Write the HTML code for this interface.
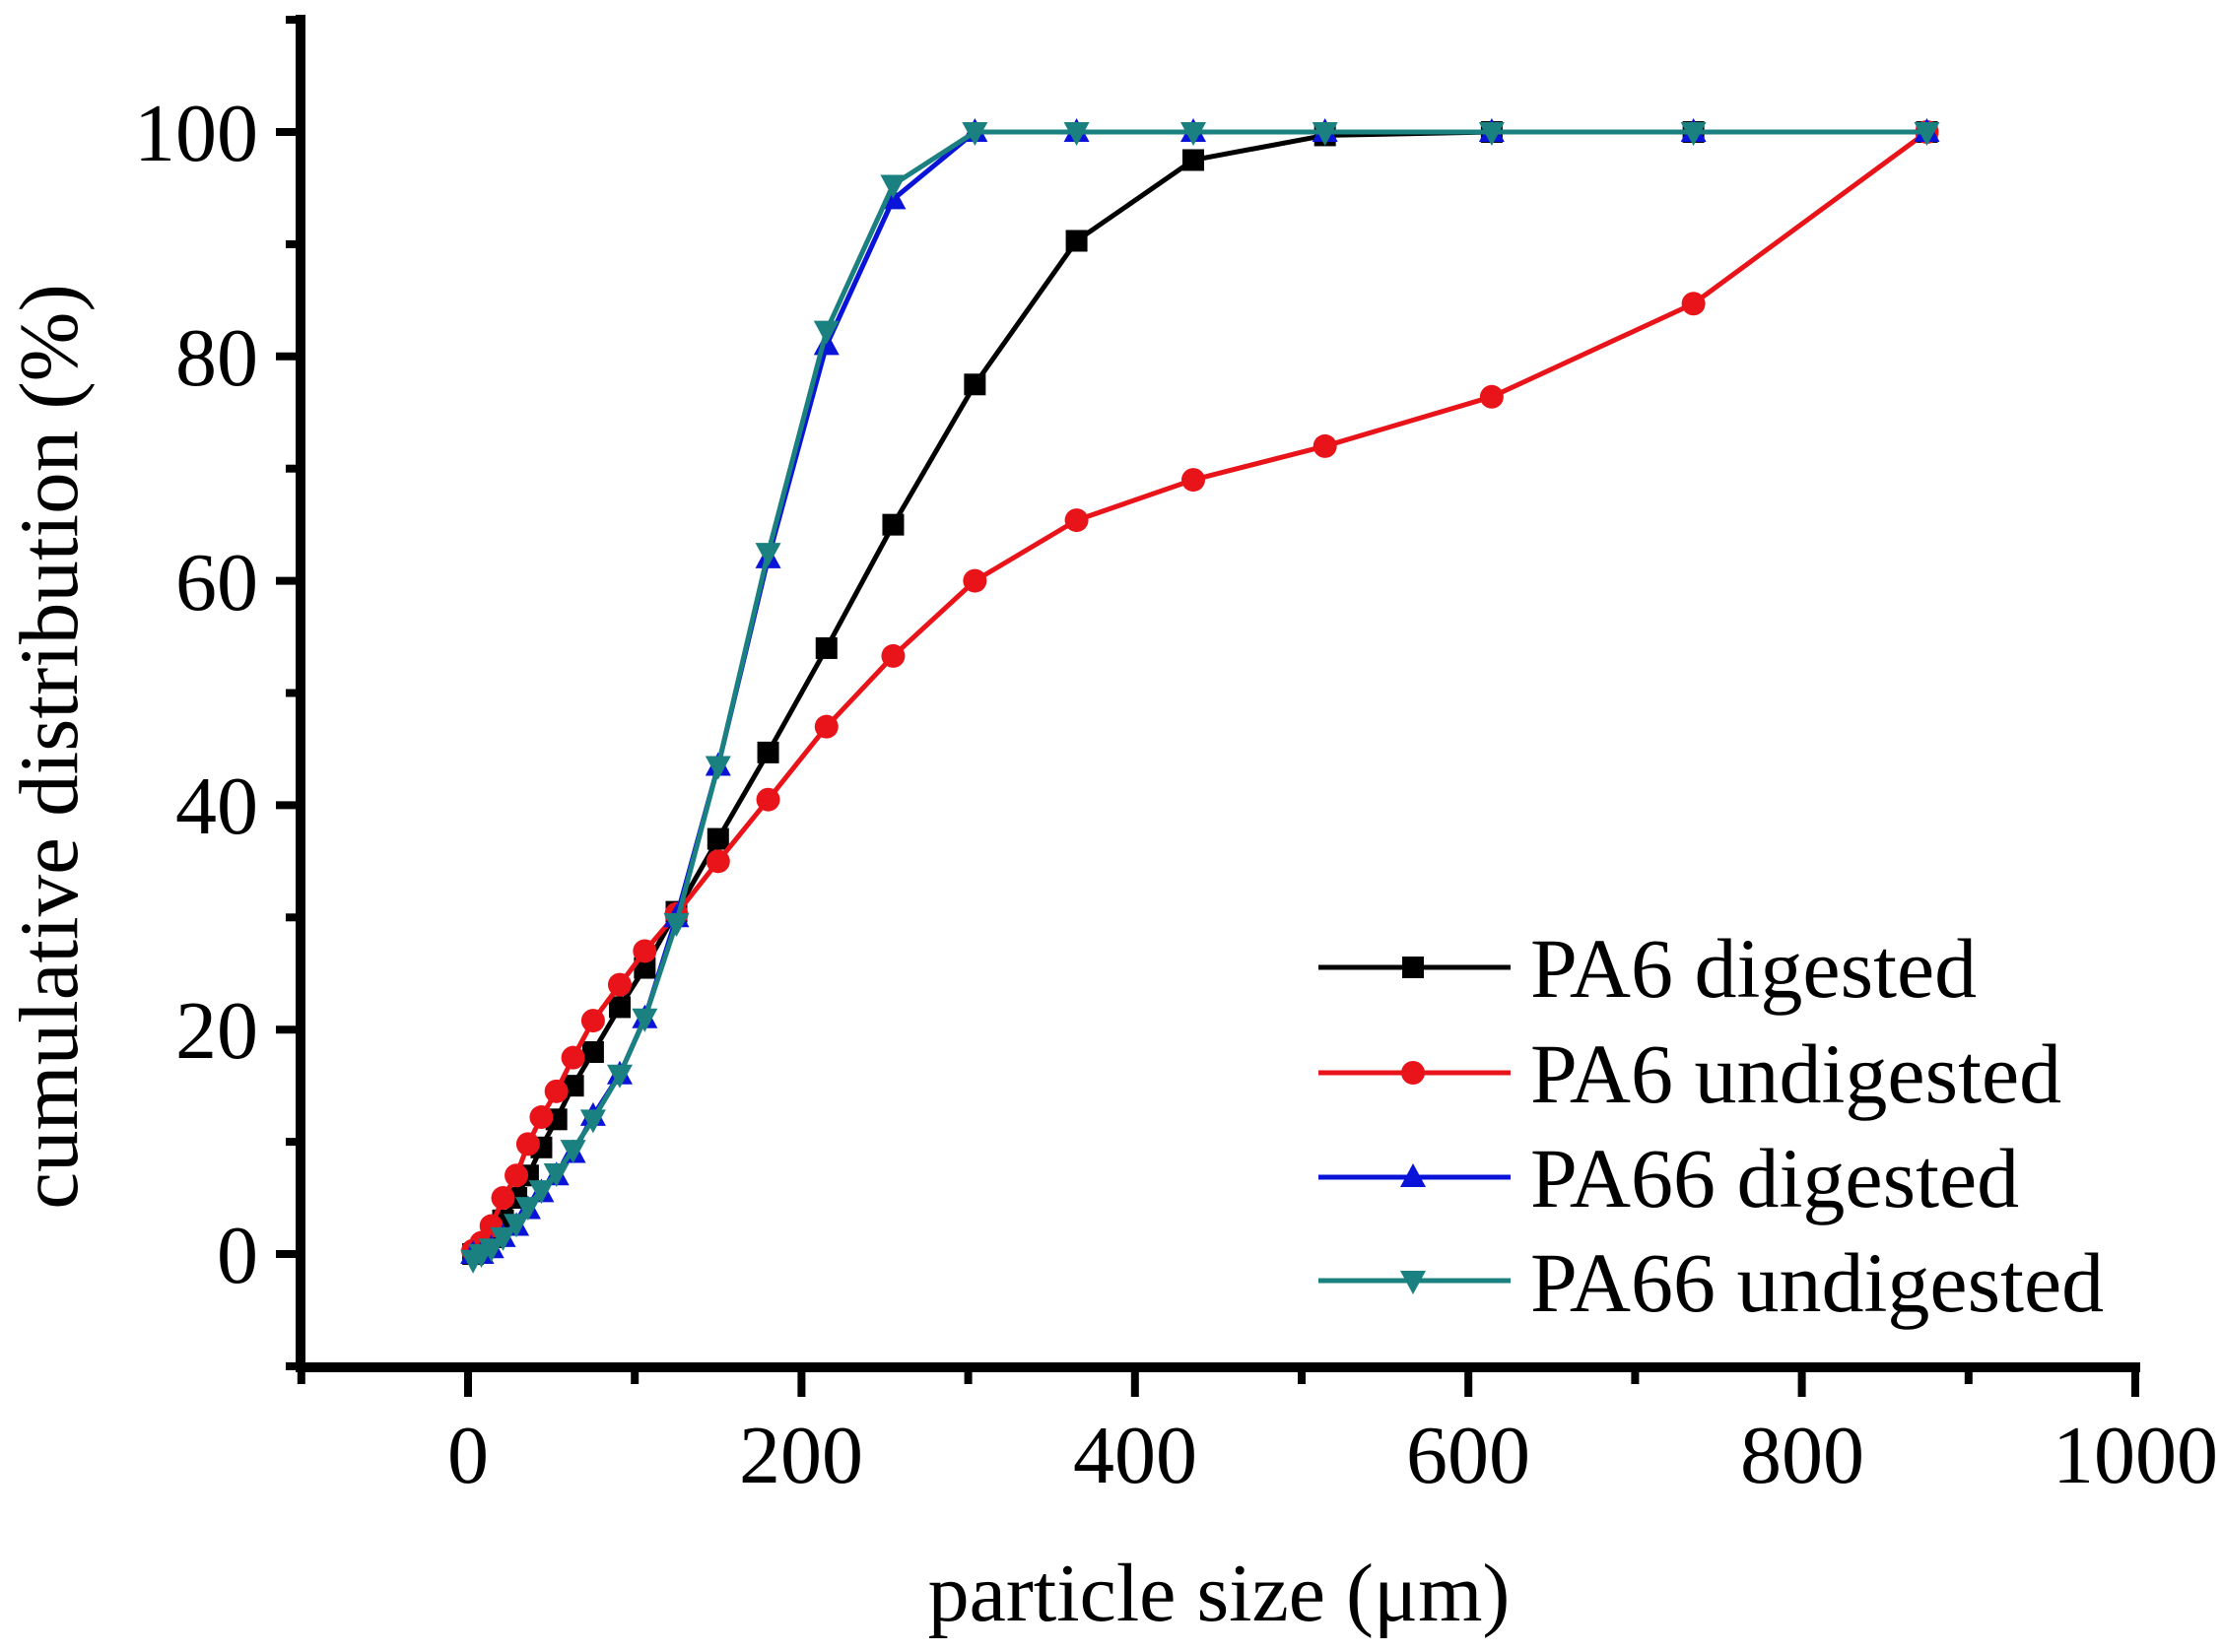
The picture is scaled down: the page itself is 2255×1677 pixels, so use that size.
<!DOCTYPE html>
<html><head><meta charset="utf-8"><style>
html,body{margin:0;padding:0;background:#fff;}
svg{display:block;}
text{font-family:"Liberation Serif",serif;fill:#000;}
</style></head><body>
<svg id="s" width="2255" height="1677" viewBox="0 0 2255 1677" xmlns="http://www.w3.org/2000/svg">
<g id="axes" stroke="#000" stroke-width="10" stroke-linecap="square" fill="none">
<line x1="305" y1="20" x2="305" y2="1388"/>
<line x1="305" y1="1388" x2="2167" y2="1388"/>
</g>
<g id="ticks" stroke="#000" stroke-width="8"></g>
<g font-size="84" text-anchor="end">
<text x="262" y="1302">0</text>
<text x="262" y="1074">20</text>
<text x="262" y="846">40</text>
<text x="262" y="619">60</text>
<text x="262" y="391">80</text>
<text x="262" y="163">100</text>
</g>
<g font-size="84" text-anchor="middle">
<text x="475" y="1505">0</text>
<text x="813" y="1505">200</text>
<text x="1152" y="1505">400</text>
<text x="1490" y="1505">600</text>
<text x="1829" y="1505">800</text>
<text x="2167" y="1505">1000</text>
</g>
<text x="1237" y="1645" font-size="84" text-anchor="middle">particle size (μm)</text>
<text transform="translate(78,758) rotate(-90)" font-size="85" text-anchor="middle">cumulative distribution (%)</text>
<g id="series"></g>
<g id="legend" font-size="86">
<text x="1553" y="1012">PA6 digested</text>
<text x="1553" y="1119">PA6 undigested</text>
<text x="1553" y="1225">PA66 digested</text>
<text x="1553" y="1331">PA66 undigested</text>
</g>
</svg>
<script>
var NS="http://www.w3.org/2000/svg";
function X(v){return 475+v*1.692;}
function Y(v){return 1273-v*11.39;}
function el(p,n,a){var e=document.createElementNS(NS,n);for(var k in a)e.setAttribute(k,a[k]);p.appendChild(e);return e;}
var t=document.getElementById('ticks');
for(var v=-10;v<=110;v+=10){var maj=(v%20===0);el(t,'line',{x1:305,x2:maj?280:290,y1:Y(v),y2:Y(v)});}
for(var v=-100;v<=1000;v+=100){var maj=(v%200===0);el(t,'line',{y1:1388,y2:maj?1418:1405,x1:X(v),x2:X(v)});}
var xs=[3,8,14,21,29,36,44,53,63,75,91,106,125,150,180,215,255,304,365,435,514,614,735,875];
var S=[
{c:"#000",m:"sq",y:[0,0.5,1.5,3,5,7,9.5,12,15,18,22,25.5,30.5,37,44.7,54,65,77.5,90.3,97.5,99.7,100,100,100]},
{c:"#e8141a",m:"ci",y:[0.3,1,2.5,5,7,9.8,12.2,14.5,17.5,20.8,24,27,30.3,35,40.5,47,53.3,60,65.4,69,72,76.4,84.7,100]},
{c:"#0a14d8",m:"up",y:[0,0,0.5,1.5,2.5,4,5.5,7,9,12.3,16,21,30,43.5,62,81,94,100,100,100,100,100,100,100]},
{c:"#1a8080",m:"dn",y:[-0.5,0,0.5,1.5,2.7,4.2,5.7,7.2,9.3,12,16,21,29.5,43.5,62.5,82.3,95.3,100,100,100,100,100,100,100]}
];
var g=document.getElementById('series');
function mk(p,m,x,y,c){
 if(m=="sq")el(p,'rect',{x:x-11,y:y-11,width:22,height:22,fill:c});
 else if(m=="ci")el(p,'circle',{cx:x,cy:y,r:12,fill:c});
 else if(m=="up")el(p,'polygon',{points:(x-13)+","+(y+10)+" "+(x+13)+","+(y+10)+" "+x+","+(y-14),fill:c});
 else el(p,'polygon',{points:(x-13)+","+(y-10)+" "+(x+13)+","+(y-10)+" "+x+","+(y+14),fill:c});
}
S.forEach(function(s,i){
 var pts=xs.map(function(x,j){return X(x)+","+Y(s.y[j]);}).join(" ");
 el(g,'polyline',{points:pts,fill:"none",stroke:s.c,"stroke-width":5,"stroke-linejoin":"round"});
 xs.forEach(function(x,j){mk(g,s.m,X(x),Y(s.y[j]),s.c);});
 var ly=[982,1089,1195,1300][i];
 el(g,'line',{x1:1338,x2:1533,y1:ly,y2:ly,stroke:s.c,"stroke-width":5});
 mk(g,s.m,1434,ly,s.c);
});
</script>
</body></html>
